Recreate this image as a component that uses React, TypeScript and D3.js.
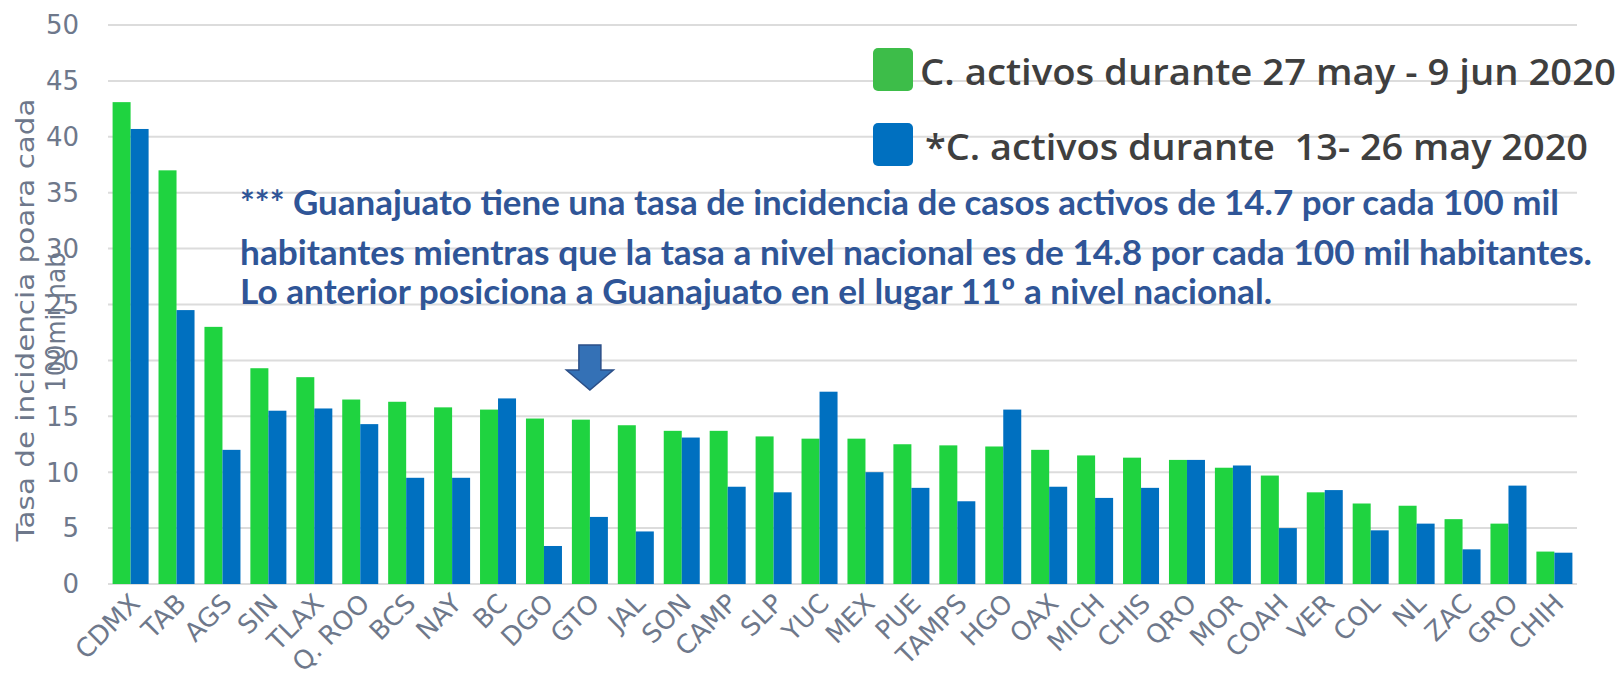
import React from "react";
import * as d3 from "d3";

// entidades, ordenadas por la tasa del periodo reciente
const estados = [
  "CDMX", "TAB", "AGS", "SIN", "TLAX", "Q. ROO", "BCS", "NAY", "BC", "DGO", "GTO",
  "JAL", "SON", "CAMP", "SLP", "YUC", "MEX", "PUE", "TAMPS", "HGO", "OAX", "MICH",
  "CHIS", "QRO", "MOR", "COAH", "VER", "COL", "NL", "ZAC", "GRO", "CHIH",
];

// C. activos durante 27 may - 9 jun 2020
const activos27may9jun = [
  43.1, 37.0, 23.0, 19.3, 18.5, 16.5, 16.3, 15.8, 15.6, 14.8, 14.7,
  14.2, 13.7, 13.7, 13.2, 13.0, 13.0, 12.5, 12.4, 12.3, 12.0, 11.5,
  11.3, 11.1, 10.4, 9.7, 8.2, 7.2, 7.0, 5.8, 5.4, 2.9,
];

// *C. activos durante 13 - 26 may 2020
const activos13a26may = [
  40.7, 24.5, 12.0, 15.5, 15.7, 14.3, 9.5, 9.5, 16.6, 3.4, 6.0,
  4.7, 13.1, 8.7, 8.2, 17.2, 10.0, 8.6, 7.4, 15.6, 8.7, 7.7,
  8.6, 11.1, 10.6, 5.0, 8.4, 4.8, 5.4, 3.1, 8.8, 2.8,
];

const yTicks = [0, 5, 10, 15, 20, 25, 30, 35, 40, 45, 50];

const series = [
  { key: "reciente", values: activos27may9jun, color: "#1fd340" },
  { key: "previo", values: activos13a26may, color: "#0070c0" },
];

const leyenda = [
  { label: "C. activos durante 27 may - 9 jun 2020", color: "#3dbd49" },
  { label: "*C. activos durante  13- 26 may 2020", color: "#0070c0" },
];

const nota = [
  "*** Guanajuato tiene una tasa de incidencia de casos activos de 14.7 por cada 100 mil",
  "habitantes mientras que la tasa a nivel nacional es de 14.8 por cada 100 mil habitantes.",
  "Lo anterior posiciona a Guanajuato en el lugar 11º a nivel nacional.",
];

const W = 1624;
const H = 685;
const gray = "#6e788b";
const font = "'DejaVu Sans', sans-serif";

export default function App() {
  const x = d3
    .scaleBand<string>()
    .domain(estados)
    .range([108, 1577])
    .paddingInner(0.216)
    .paddingOuter(0.1);
  const xs = d3
    .scaleBand<string>()
    .domain(series.map((s) => s.key))
    .range([0, x.bandwidth()]);
  const y = d3.scaleLinear().domain([0, 50]).range([584, 25]);

  // flecha sobre GTO
  const cx = (x("GTO") ?? 0) + x.bandwidth() / 2;
  const arrow = [
    [cx - 11, 345], [cx + 11, 345], [cx + 11, 370], [cx + 23.5, 370],
    [cx, 390], [cx - 23.5, 370], [cx - 11, 370],
  ];

  return (
    <svg
      width={W}
      height={H}
      style={{ position: "absolute", left: 0, top: 0, background: "#fff" }}
    >
      {/* grid */}
      {yTicks.map((t) => (
        <g key={t}>
          <line
            x1={108}
            x2={1577}
            y1={y(t)}
            y2={y(t)}
            stroke="#dcdcdc"
            strokeWidth={2}
          />
          <text
            x={79}
            y={y(t)}
            dy="0.36em"
            textAnchor="end"
            fontFamily={font}
            fontSize={26}
            fill={gray}
          >
            {t}
          </text>
        </g>
      ))}

      {/* barras */}
      {estados.map((e, i) => (
        <g key={e} transform={`translate(${x(e)},0)`}>
          {series.map((s) => (
            <rect
              key={s.key}
              x={xs(s.key)}
              y={y(s.values[i])}
              width={xs.bandwidth()}
              height={y(0) - y(s.values[i])}
              fill={s.color}
            />
          ))}
          <text
            transform={`translate(${x.bandwidth() / 2 + 11},605) rotate(-45)`}
            textAnchor="end"
            fontFamily={font}
            fontSize={26}
            fill={gray}
          >
            {e}
          </text>
        </g>
      ))}

      {/* titulo eje y */}
      <text
        transform="translate(34,320) rotate(-90)"
        textAnchor="middle"
        fontFamily={font}
        fontSize={24}
        fill={gray}
        textLength={443}
        lengthAdjust="spacingAndGlyphs"
      >
        Tasa de incidencia poara cada
      </text>
      <text
        transform="translate(65,322) rotate(-90)"
        textAnchor="middle"
        fontFamily={font}
        fontSize={26}
        fill={gray}
        textLength={140}
        lengthAdjust="spacingAndGlyphs"
      >
        100mil hab
      </text>

      {/* leyenda */}
      {leyenda.map((l, i) => (
        <g key={l.label} transform={`translate(0,${i * 75})`}>
          <rect x={873} y={48} width={40} height={43} rx={5} fill={l.color} />
          <text
            x={i === 0 ? 920 : 925}
            y={85}
            fontFamily="'Open Sans', sans-serif"
            fontWeight={600}
            fontSize={36}
            fill="#3f3f3f"
            textLength={i === 0 ? 696 : 663}
            lengthAdjust="spacingAndGlyphs"
            style={{ whiteSpace: "pre" }}
          >
            {l.label}
          </text>
        </g>
      ))}

      {/* nota */}
      {nota.map((n, i) => (
        <text
          key={i}
          x={240}
          y={[215, 265, 304][i]}
          fontFamily="Lato, sans-serif"
          fontWeight={700}
          fontSize={35}
          fill="#2f5597"
          textLength={[1319, 1352, 1032][i]}
          lengthAdjust="spacingAndGlyphs"
        >
          {n}
        </text>
      ))}

      <polygon
        points={arrow.map((p) => p.join(",")).join(" ")}
        fill="#3471b6"
        stroke="#2b4f88"
        strokeWidth={1.5}
      />
    </svg>
  );
}
